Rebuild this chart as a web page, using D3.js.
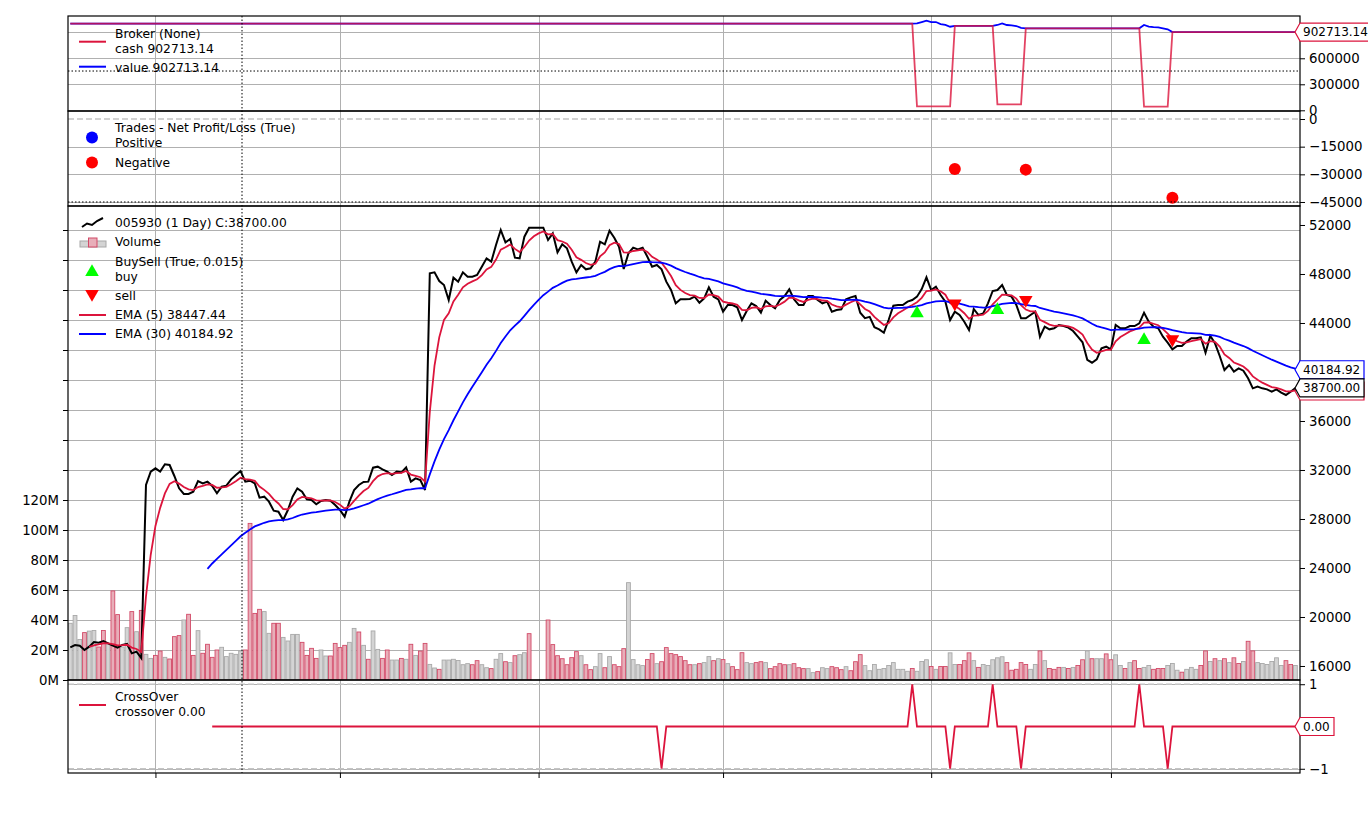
<!DOCTYPE html>
<html>
<head>
<meta charset="utf-8">
<script src="https://cdn.jsdelivr.net/npm/d3@7"></script>
<style>
  body { margin: 0; background: #fff; }
  svg { font-family: "DejaVu Sans", sans-serif; }
</style>
</head>
<body>
<div id="chart"></div>
<script>
// closing prices, one per trading day
const closes = [
  17526, 17714, 17660, 17306, 17578, 17959, 17905, 18041, 17850, 17660,
  17496, 17714, 17796, 17034, 17170, 16653, 30775, 31864, 32136, 31864,
  32463, 32408, 31510, 30503, 30040, 30040, 30231, 31101, 30911, 31047,
  30694, 30095, 30639, 30721, 31238, 31591, 31918, 31047, 31129, 30911,
  29741, 29823, 29415, 28680, 28598, 27918, 28734, 29823, 30503, 30231,
  29605, 29551, 29197, 29469, 29551, 29496, 29143, 28734, 28190, 29415,
  30367, 30775, 31020, 31047, 32191, 32272, 32055, 31864, 31591, 31864,
  31810, 32218, 31047, 31320, 31183, 30367, 48056, 48138, 47428, 47102,
  45877, 47700, 47374, 48138, 47782, 47782, 47918, 48598, 49279, 49007,
  50367, 51591, 50585, 50857, 49333, 49279, 51047, 51782, 51782, 51782,
  51782, 50775, 51320, 49769, 50422, 50095, 49007, 48138, 48734, 48380,
  48462, 49007, 50639, 50422, 51537, 50966, 50231, 48408, 49687, 50150,
  50014, 50150, 49412, 48598, 48734, 48380, 47374, 46693, 45605, 45932,
  45932, 45959, 46149, 45659, 46013, 46911, 46149, 45932, 44925, 45469,
  45469, 45279, 44245, 44980, 45605, 45387, 44843, 45822, 45469, 45197,
  45877, 46203, 46748, 45932, 45469, 45469, 46203, 46203, 45877, 45605,
  45741, 44925, 45061, 45115, 45932, 46094, 46203, 44843, 44400, 44500,
  43650, 43484, 43208, 44245, 45415, 45469, 45469, 45741, 45877, 46149,
  46775, 47728, 46693, 46965, 46285, 45741, 44245, 44925, 44653, 44109,
  43428, 45143, 44653, 44789, 45605, 46612, 46693, 47102, 46285, 46149,
  45469, 44381, 44381, 44653, 44925, 42881, 43700, 43484, 43565, 43837,
  43755, 43619, 43347, 42881, 42424, 41000, 40758, 41034, 41932, 42065,
  41850, 43837, 43565, 43565, 43755, 43755, 43975, 44843, 44109, 43700,
  43565, 42881, 42397, 41850, 42122, 42122, 42479, 42751, 42751, 42833,
  41578, 42938, 42343, 41305, 40163, 40571, 40027, 40299, 40109, 39483,
  38667, 38803, 38667, 38585, 38395, 38585, 38313, 38122, 38395, 38700
];

// volume in millions of shares
const volumes = [
  37.8, 43, 27, 31.6, 32.6, 33, 22, 33, 24, 59.4,
  43.6, 22, 34.9, 45.6, 32.2, 46.4, 17.1, 14.4, 16.4, 19.3,
  15.1, 14, 28.9, 29.6, 40, 43.8, 16.4, 32.9, 17.8, 23.8,
  15.1, 20, 21.8, 15.6, 17.8, 17.1, 19.3, 20, 104.4, 44.4,
  47.1, 45.6, 31.1, 37.8, 37.8, 28.4, 26, 30.4, 30.4, 25.1,
  16.4, 21.1, 14.4, 20, 16, 16, 24.4, 21.6, 23.1, 25.1,
  34.4, 32, 23.1, 13.8, 32.7, 20.4, 14.4, 20, 13.3, 13.3,
  14.4, 13.8, 23.8, 16.4, 19.3, 24.4, 10.4, 8, 7.1, 13.3,
  13.3, 13.8, 13, 10.2, 10.9, 10.2, 12.9, 10.2, 8.2, 7.6,
  13.8, 17.6, 12.2, 11.6, 16.2, 16.9, 18.2, 30.9, 0, 0,
  0, 40, 23.6, 16.2, 14.2, 10.2, 14.9, 18.9, 16.2, 10.2,
  6.9, 8.9, 17.6, 8.2, 15.6, 10.2, 8.9, 20.9, 64.9, 13.6,
  10.2, 9.6, 13.6, 17.6, 10.9, 12.2, 21.6, 17.6, 16.9, 15.6,
  12.9, 10.2, 10.2, 10.9, 11.6, 15.6, 12.9, 14.2, 13.6, 10.9,
  8.9, 6.9, 18.2, 11.6, 10.9, 11.6, 12.2, 11.6, 7.6, 8.9,
  10.9, 10.2, 10.2, 10.9, 8.2, 7.6, 7.6, 4.9, 5.6, 8.2,
  7.6, 8.9, 8.2, 6.9, 8.9, 6.2, 12.2, 16.9, 9.6, 6.2,
  10.3, 7.1, 7.7, 9.7, 11.6, 7.1, 7.1, 5.8, 7.7, 5.8,
  12.3, 13.5, 9.0, 7.1, 9.0, 9.0, 18.1, 10.3, 10.3, 12.9,
  18.1, 12.9, 8.4, 10.3, 9.7, 13.5, 14.8, 15.5, 11.6, 6.5,
  7.1, 11.6, 10.3, 7.1, 10.3, 19.4, 12.9, 7.7, 7.1, 8.4,
  8.4, 7.7, 8.4, 9.7, 13.5, 19.4, 14.2, 14.2, 14.2, 17.4,
  13.5, 16.8, 9.7, 7.7, 11.6, 12.9, 7.7, 8.4, 9.7, 7.1,
  7.7, 7.7, 9.7, 11.0, 6.5, 5.2, 7.1, 8.4, 7.1, 9.7,
  19.4, 12.3, 14.2, 12.9, 14.2, 11.6, 14.8, 11.0, 12.3, 25.8,
  19.4, 11.6, 11.0, 10.3, 12.3, 14.8, 9.7, 12.9, 10.3, 9.7
];

// 1 = close below open (red volume bar), 0 = up day (grey)
const downDay = [
  0,0,0,1,0,0,1,1,0,1, 1,0,0,1,0,1,0,0,1,1,
  0,1,1,1,0,1,1,0,1,1, 1,1,0,0,0,0,0,1,1,1,
  1,0,0,1,1,0,0,0,0,1, 1,1,1,0,0,1,1,1,1,0,
  0,1,0,1,0,0,1,1,0,0, 1,0,1,0,1,1,0,0,1,0,
  0,0,0,0,0,1,1,0,0,1, 0,0,1,0,1,0,0,1,0,0,
  0,1,1,1,1,1,1,1,0,1, 1,0,0,1,0,1,1,1,0,0,
  0,0,1,1,0,1,1,1,1,1, 1,1,0,1,0,0,1,0,1,0,
  1,1,1,0,0,1,1,0,1,1, 1,1,0,1,1,1,0,0,1,0,
  0,1,1,1,0,1,1,1,0,0, 0,0,0,0,0,0,0,0,1,0,
  0,0,1,0,1,1,0,0,1,1, 1,0,1,0,0,0,0,0,1,1,
  1,1,1,0,0,1,0,1,1,1, 0,1,0,1,1,0,1,0,0,1,
  1,0,0,1,0,1,1,0,0,1, 1,1,0,0,0,1,0,0,0,1,
  1,0,1,0,1,0,1,1,0,1, 1,0,0,0,0,0,0,1,1,0
];

// month ticks on the x axis (bar index)
const xTicks = [18, 57, 99, 138, 182, 220];

// signals
const crossUp = [178, 195, 226];
const crossDown = [125, 186, 201, 232];
const crossStart = 30;
const buyBars = [179, 196, 227];
const buyLevels = [44790, 45061, 42612];
const sellBars = [187, 202, 233];
const sellLevels = [45605, 45877, 42670];

// closed trades
const tradeBars = [187, 202, 233];
const tradePnl = [-27150, -27450, -42686.86];

// broker: cash as [from bar, amount], value while a position is open
const cashSteps = [[0, 1000000], [179, 46000], [187, 972850], [196, 69000], [202, 945400], [227, 41500], [233, 902713.14]];
const posStarts = [179, 196, 227];
const posValues = [
  [1003000, 1018000, 1033000, 1018000, 1018000, 995000, 984000, 964000],
  [984000, 1003000, 984000, 980000, 972000, 950000],
  [984000, 966000, 960000, 957000, 946000, 934000]
];

// last values shown in legends / tags
const lastCash = 902713.14, lastClose = 38700.00, lastEmaFast = 38447.44, lastEmaSlow = 40184.92;

// tick values per panel
const brokerTicks = [0, 300000, 600000, 900000];
const tradeTicks = [0, -15000, -30000, -45000];
const priceTicks = d3.range(16000, 52001, 4000);
const volTicks = d3.range(0, 301, 20);
const crossTicks = [-1, 1];

// mouse cursor left on the figure
const cursor = {bar: 36.3, broker: 453000, trades: -45000};

// ---------------------------------------------------------------
const W = 1368, H = 815;
const L = 68, R = 1300;
const P = {
  broker: [16, 111],
  trades: [111, 206],
  main: [206, 680],
  cross: [680, 773]
};
const RED = "#dc143c", BLUE = "#0000ff", GRID = "#b0b0b0";

const svg = d3.select("#chart").append("svg")
  .attr("width", W).attr("height", H);

const N = closes.length;
const x = d3.scaleLinear().domain([0, N - 1]).range([70.3, 1295.4]);

const yBroker = d3.scaleLinear().domain([-8000, 1087700]).range([P.broker[1], P.broker[0]]);
const yTrades = d3.scaleLinear().domain([-47170, 4340]).range([P.trades[1], P.trades[0]]);
const yPrice = d3.scaleLinear().domain([14857, 53551]).range([P.main[1], P.main[0]]);
const yVol = d3.scaleLinear().domain([0, 316]).range([P.main[1], P.main[0]]);
const yCross = d3.scaleLinear().domain([-1.1, 1.1]).range([P.cross[1], P.cross[0]]);

// exponential moving average, seeded with the simple mean (backtrader style)
function ema(values, period) {
  const k = 2 / (period + 1);
  const out = values.map(() => null);
  let prev = d3.mean(values.slice(0, period));
  out[period - 1] = prev;
  for (let i = period; i < values.length; i++) {
    prev = prev + k * (values[i] - prev);
    out[i] = prev;
  }
  return out;
}
const emaFast = ema(closes, 5);
const emaSlow = ema(closes, 30);

// clip paths for each panel
const defs = svg.append("defs");
Object.entries(P).forEach(([k, [t, b]]) => {
  defs.append("clipPath").attr("id", "clip-" + k)
    .append("rect").attr("x", L).attr("y", t).attr("width", R - L).attr("height", b - t);
});

// grid
const grid = svg.append("g").attr("stroke", GRID).attr("stroke-width", 1);
Object.values(P).forEach(([t, b]) => {
  grid.selectAll(null).data(xTicks).join("line")
    .attr("x1", d => Math.round(x(d)) + 0.5).attr("x2", d => Math.round(x(d)) + 0.5)
    .attr("y1", t).attr("y2", b);
});
function hgrid(vals, scale) {
  grid.selectAll(null).data(vals).join("line")
    .attr("x1", L).attr("x2", R)
    .attr("y1", d => Math.round(scale(d)) + 0.5).attr("y2", d => Math.round(scale(d)) + 0.5);
}
hgrid(brokerTicks.slice(1), yBroker);
hgrid(tradeTicks.slice(1), yTrades);
hgrid(volTicks.slice(1), yVol);
hgrid(crossTicks, yCross);

// ---- broker panel ----
const cash = d3.range(N).map(i => {
  let v = cashSteps[0][1];
  cashSteps.forEach(([s, c]) => { if (i >= s) v = c; });
  return v;
});
const value = cash.slice();
posStarts.forEach((s, k) => posValues[k].forEach((v, j) => { value[s + j] = v; }));

const gB = svg.append("g").attr("clip-path", "url(#clip-broker)");
const lineB = d3.line().x((d, i) => x(i)).y(d => yBroker(d));
gB.append("path").attr("d", lineB(value)).attr("fill", "none").attr("stroke", BLUE).attr("stroke-width", 1.8);
gB.append("path").attr("d", lineB(cash)).attr("fill", "none").attr("stroke", RED).attr("stroke-width", 1.8).attr("opacity", 0.8);

// ---- trades panel ----
const gT = svg.append("g").attr("clip-path", "url(#clip-trades)");
gT.append("line").attr("x1", L).attr("x2", R)
  .attr("y1", yTrades(0)).attr("y2", yTrades(0))
  .attr("stroke", "#c4c4c4").attr("stroke-width", 1.5).attr("stroke-dasharray", "6,3");
gT.selectAll("circle").data(tradeBars).join("circle")
  .attr("cx", d => x(d)).attr("cy", (d, i) => yTrades(tradePnl[i]))
  .attr("r", 6).attr("fill", (d, i) => tradePnl[i] < 0 ? "#ff0000" : BLUE);

// ---- main panel ----
const gM = svg.append("g").attr("clip-path", "url(#clip-main)");
const bw = 3.8;
gM.append("g").selectAll("rect").data(volumes).join("rect")
  .attr("x", (d, i) => x(i) - bw / 2)
  .attr("y", d => yVol(d))
  .attr("width", bw)
  .attr("height", d => yVol(0) - yVol(d))
  .attr("fill", (d, i) => downDay[i] ? "#e8aeb9" : "#d4d4d4")
  .attr("stroke", (d, i) => downDay[i] ? "#d24a68" : "#a8a8a8")
  .attr("stroke-width", 0.9)
  .attr("display", d => d > 0 ? null : "none");

const lineP = d3.line().defined(d => d != null).x((d, i) => x(i)).y(d => yPrice(d));
gM.append("path").attr("d", lineP(closes)).attr("fill", "none").attr("stroke", "#000").attr("stroke-width", 2);
gM.append("path").attr("d", lineP(emaFast)).attr("fill", "none").attr("stroke", RED).attr("stroke-width", 1.8);
gM.append("path").attr("d", lineP(emaSlow)).attr("fill", "none").attr("stroke", BLUE).attr("stroke-width", 1.8);

const tri = d3.symbol(d3.symbolTriangle, 80);
gM.selectAll(".buy").data(buyBars).join("path").attr("class", "buy")
  .attr("d", tri).attr("fill", "#00ff00")
  .attr("transform", (d, i) => `translate(${x(d)},${yPrice(buyLevels[i])})`);
gM.selectAll(".sell").data(sellBars).join("path").attr("class", "sell")
  .attr("d", tri).attr("fill", "#ff0000")
  .attr("transform", (d, i) => `translate(${x(d)},${yPrice(sellLevels[i])}) rotate(180)`);

// ---- crossover panel ----
const gC = svg.append("g").attr("clip-path", "url(#clip-cross)");
crossTicks.forEach(v => gC.append("line").attr("x1", L).attr("x2", R)
  .attr("y1", yCross(v)).attr("y2", yCross(v))
  .attr("stroke", "#c4c4c4").attr("stroke-width", 1.5).attr("stroke-dasharray", "6,3"));
const crossIdx = d3.range(crossStart, N);
const crossVal = crossIdx.map(i => crossUp.includes(i) ? 1 : crossDown.includes(i) ? -1 : 0);
gC.append("path")
  .attr("d", d3.line().x((d, i) => x(crossIdx[i])).y(d => yCross(d))(crossVal))
  .attr("fill", "none").attr("stroke", RED).attr("stroke-width", 1.8);

// ---- spines & axes ----
Object.values(P).forEach(([t, b]) => {
  svg.append("rect").attr("x", L).attr("y", t).attr("width", R - L).attr("height", b - t)
    .attr("fill", "none").attr("stroke", "#000").attr("stroke-width", 1.2);
});

function styleAxis(g) {
  g.select(".domain").remove();
  g.selectAll("text").attr("font-size", "13.3px").attr("font-family", "DejaVu Sans").attr("fill", "#000");
  g.selectAll("line").attr("stroke", "#000");
}
// labels that sit under a value tag are left blank, as in the original
const fmtInt = d3.format("d");
svg.append("g").attr("transform", `translate(${R},0)`)
  .call(d3.axisRight(yBroker).tickValues(brokerTicks)
    .tickFormat(d => d === 900000 ? "" : fmtInt(d)).tickSize(5).tickPadding(4))
  .call(styleAxis);
svg.append("g").attr("transform", `translate(${R},0)`)
  .call(d3.axisRight(yTrades).tickValues(tradeTicks).tickFormat(fmtInt).tickSize(5).tickPadding(4))
  .call(styleAxis);
svg.append("g").attr("transform", `translate(${R},0)`)
  .call(d3.axisRight(yPrice).tickValues(priceTicks)
    .tickFormat(d => d === 40000 ? "" : fmtInt(d)).tickSize(5).tickPadding(4))
  .call(styleAxis);
svg.append("g").attr("transform", `translate(${L},0)`)
  .call(d3.axisLeft(yVol).tickValues(volTicks).tickFormat(d => d <= 120 ? d + "M" : "").tickSize(5).tickPadding(4))
  .call(styleAxis);
svg.append("g").attr("transform", `translate(${R},0)`)
  .call(d3.axisRight(yCross).tickValues(crossTicks).tickFormat(fmtInt).tickSize(5).tickPadding(4))
  .call(styleAxis);
svg.append("g").attr("transform", `translate(0,${P.cross[1]})`)
  .call(d3.axisBottom(x).tickValues(xTicks).tickFormat("").tickSize(5))
  .call(styleAxis);

// ---- cursor (dotted) ----
const cur = svg.append("g").attr("stroke", "#000").attr("stroke-width", 1).attr("stroke-dasharray", "1.5,2");
cur.append("line").attr("x1", x(cursor.bar)).attr("x2", x(cursor.bar)).attr("y1", P.broker[0]).attr("y2", P.cross[1]);
cur.append("line").attr("x1", L).attr("x2", R).attr("y1", yBroker(cursor.broker)).attr("y2", yBroker(cursor.broker));
cur.append("line").attr("x1", L).attr("x2", R).attr("y1", yTrades(cursor.trades)).attr("y2", yTrades(cursor.trades));

// ---- legends ----
const lg = svg.append("g").attr("font-size", "12.3px").attr("fill", "#000");
function txt(s, y) {
  lg.append("text").attr("x", 115).attr("y", y).attr("dominant-baseline", "central").text(s);
}
function hline(y, color) {
  lg.append("line").attr("x1", 79).attr("x2", 106).attr("y1", y).attr("y2", y)
    .attr("stroke", color).attr("stroke-width", 2);
}
txt("Broker (None)", 34); txt("cash " + d3.format(".2f")(lastCash), 49); hline(41.7, RED);
txt("value " + d3.format(".2f")(lastCash), 68); hline(66.7, BLUE);

txt("Trades - Net Profit/Loss (True)", 128); txt("Positive", 143);
lg.append("circle").attr("cx", 92).attr("cy", 137.5).attr("r", 6).attr("fill", BLUE);
txt("Negative", 163);
lg.append("circle").attr("cx", 92).attr("cy", 162.5).attr("r", 6).attr("fill", "#ff0000");

txt("005930 (1 Day) C:" + d3.format(".2f")(lastClose), 223);
lg.append("path").attr("d", "M82,227 L87,223.5 L92,225 L97,221 L103,218")
  .attr("fill", "none").attr("stroke", "#000").attr("stroke-width", 2);
txt("Volume", 242);
lg.append("rect").attr("x", 80).attr("y", 241).attr("width", 26).attr("height", 6)
  .attr("fill", "#d4d4d4").attr("stroke", "#a8a8a8");
lg.append("rect").attr("x", 88.5).attr("y", 238).attr("width", 8.5).attr("height", 9)
  .attr("fill", "#e8aeb9").attr("stroke", "#d24a68");
txt("BuySell (True, 0.015)", 262); txt("buy", 277);
lg.append("path").attr("d", tri).attr("fill", "#00ff00").attr("transform", "translate(92,272)");
txt("sell", 296);
lg.append("path").attr("d", tri).attr("fill", "#ff0000").attr("transform", "translate(92,294) rotate(180)");
txt("EMA (5) " + d3.format(".2f")(lastEmaFast), 315); hline(315, RED);
txt("EMA (30) " + d3.format(".2f")(lastEmaSlow), 334); hline(334, BLUE);

txt("CrossOver", 697); txt("crossover 0.00", 712); hline(705, RED);

// ---- value tags on the right ----
function tag(y, label, color, w) {
  const g = svg.append("g");
  g.append("path")
    .attr("d", `M1295,${y} L1300,${y - 9} L${1300 + w},${y - 9} L${1300 + w},${y + 9} L1300,${y + 9} Z`)
    .attr("fill", "#fff").attr("stroke", color).attr("stroke-width", 1.2);
  if (label) {
    g.append("text").attr("x", 1303).attr("y", y).attr("dominant-baseline", "central")
      .attr("font-size", "12px").text(label);
  }
}
tag(yBroker(lastCash), d3.format(".2f")(lastCash), RED, 70);
tag(yCross(0), "0.00", RED, 34);
tag(yPrice(lastEmaSlow), d3.format(".2f")(lastEmaSlow), BLUE, 64);
// the EMA(5) tag sits almost entirely under the close tag
tag(yPrice(lastEmaFast), null, RED, 64);
tag(yPrice(lastClose), d3.format(".2f")(lastClose), "#000", 64);
</script>
</body>
</html>
